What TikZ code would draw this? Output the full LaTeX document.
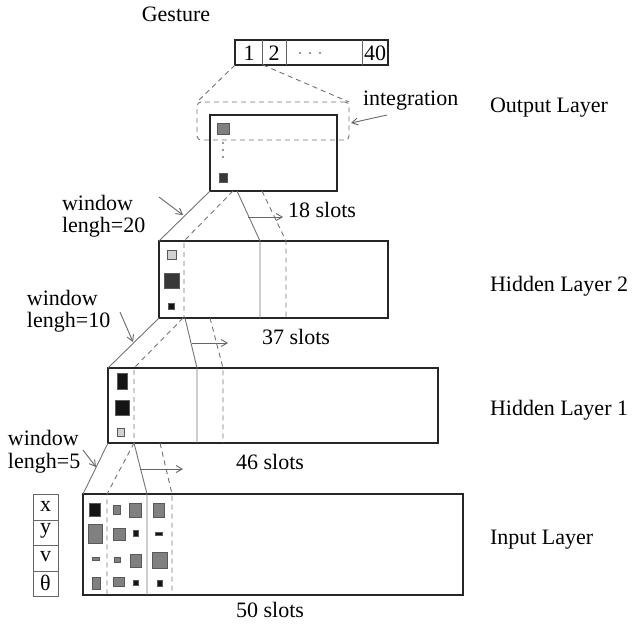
\documentclass[tikz,border=0pt]{standalone}
\usepackage{fontspec}
\setmainfont{Liberation Serif}
\usetikzlibrary{arrows.meta,calc}

\begin{document}
\begin{tikzpicture}[x=1pt,y=-1pt,
  every node/.style={font=\fontsize{22}{22}\selectfont, inner sep=0pt, outer sep=0pt},
  layerbox/.style={draw=black!85, line width=2.2pt},
  thinbox/.style={draw=black!60, line width=0.8pt},
  link/.style={draw=black!55, line width=0.9pt},
  dashlink/.style={draw=black!55, line width=0.9pt, dash pattern=on 5pt off 4pt},
  shiftarrow/.style={draw=black!60, line width=0.9pt, -{Straight Barb[length=6pt,width=7pt]}},
  winlabel/.style={anchor=west, align=left, font=\fontsize{22}{22}\selectfont},
  cell/.style={draw=black!65, line width=0.5pt},
  lightcell/.style={cell, fill=black!18},
  graycell/.style={cell, fill=black!50},
  darkcell/.style={cell, fill=black!78},
  blackcell/.style={cell, fill=black!92}
]
\useasboundingbox (0,0) rectangle (632,627);

% ---------- boxes ----------
\node[layerbox, minimum width=153pt, minimum height=25pt] (gbox) at (311.5,52.5) {};
\node[layerbox, minimum width=127pt, minimum height=76pt] (out) at (273.5,153) {};
\node[layerbox, minimum width=229pt, minimum height=77pt] (h2) at (273.5,279.5) {};
\node[layerbox, minimum width=330pt, minimum height=75pt] (h1) at (273,405.5) {};
\node[layerbox, minimum width=380pt, minimum height=101pt] (inp) at (273,544.5) {};
\node[dashlink, rounded corners=4pt, minimum width=152pt, minimum height=38pt] (integ) at (273,121) {};
\node[thinbox, minimum width=25pt, minimum height=102pt] (feat) at (45.5,545) {};

% ---------- gesture vector ----------
\draw[thinbox] (262,40) -- (262,65) (286,40) -- (286,65) (362,40) -- (362,65);
\node (g1) at (249,53) {1};
\node (g2) at (274,53) {2};
\node (g40) at (375,53) {40};
\foreach \x in {300,310,320} \fill[black!55] (\x,53) circle (1.1pt);
\node (gesture) at (176,14) {Gesture};

% integration funnel
\coordinate (gsplit) at (263,65);
\draw[dashlink] (gbox.south west) -- (integ.north west);
\draw[dashlink] (gsplit) -- (integ.north east);
\node[anchor=west] (integlbl) at (363,101) {integration};
\coordinate (integtail) at (387,115);
\coordinate (integhead) at (351,123);
\draw[shiftarrow] (integtail) -- (integhead);

% ---------- output layer cells ----------
\draw[graycell] (217,123) rectangle (229,134);
\foreach \y in {143,150,157} \fill[black!55] (223,\y) circle (1.1pt);
\draw[darkcell] (219,173) rectangle (227,182);

% ---------- output -> hidden 2 ----------
\coordinate (oa) at (233,191);
\coordinate (ob) at (237,191);
\coordinate (oc) at (262,191);
\coordinate (h2a) at (184,241);
\coordinate (h2b) at (260,241);
\coordinate (h2c) at (286,241);
\draw[link] (out.south west) -- (h2.north west);
\draw[dashlink] (oa) -- (h2a) -- (h2a |- h2.south);
\draw[link] (ob) -- (h2b) -- (h2b |- h2.south);
\draw[dashlink] (oc) -- (h2c) -- (h2c |- h2.south);
\coordinate (a18s) at (248,217);
\coordinate (a18e) at (283,217);
\draw[shiftarrow] (a18s) -- (a18e);
\node (s18) at (322,210) {18 slots};
\node[winlabel] (w20) at (62,216) {window\\lengh=20};
\coordinate (w20t) at (159,197);
\coordinate (w20h) at (183,215);
\draw[shiftarrow] (w20t) -- (w20h);

% hidden 2 cells
\draw[lightcell] (167,250) rectangle (176,259);
\draw[darkcell] (164,273) rectangle (179,288);
\draw[blackcell] (168,303) rectangle (174,309);

% ---------- hidden 2 -> hidden 1 ----------
\coordinate (h2d) at (183,318);
\coordinate (h2e) at (185,318);
\coordinate (h2f) at (210,318);
\coordinate (h1a) at (134,368);
\coordinate (h1b) at (197,368);
\coordinate (h1c) at (223,368);
\draw[link] (h2.south west) -- (h1.north west);
\draw[dashlink] (h2d) -- (h1a) -- (h1a |- h1.south);
\draw[link] (h2e) -- (h1b) -- (h1b |- h1.south);
\draw[dashlink] (h2f) -- (h1c) -- (h1c |- h1.south);
\coordinate (a37s) at (192,343);
\coordinate (a37e) at (228,343);
\draw[shiftarrow] (a37s) -- (a37e);
\node (s37) at (296,337) {37 slots};
\node[winlabel] (w10) at (27,311) {window\\lengh=10};
\coordinate (w10t) at (120,312);
\coordinate (w10h) at (133,342);
\draw[shiftarrow] (w10t) -- (w10h);

% hidden 1 cells
\draw[blackcell] (117,373) rectangle (127,389);
\draw[blackcell] (115,400) rectangle (129,415);
\draw[lightcell] (117,428) rectangle (124,436);

% ---------- hidden 1 -> input ----------
\coordinate (h1d) at (134,443);
\coordinate (h1e) at (160,443);
\coordinate (ia) at (107,494);
\coordinate (ib) at (147,494);
\coordinate (ic) at (172,494);
\draw[link] (h1.south west) -- (inp.north west);
\draw[dashlink] (h1d) -- (ia) -- (ia |- inp.south);
\draw[link] (h1d) -- (ib) -- (ib |- inp.south);
\draw[dashlink] (h1e) -- (ic) -- (ic |- inp.south);
\coordinate (a46s) at (140,469);
\coordinate (a46e) at (183,469);
\draw[shiftarrow] (a46s) -- (a46e);
\node (s46) at (270,462) {46 slots};
\node[winlabel, font=\fontsize{22}{23}\selectfont] (w5) at (8,452) {window\\lengh=5};
\coordinate (w5t) at (83,450);
\coordinate (w5h) at (96,467);
\draw[shiftarrow] (w5t) -- (w5h);

% input cells: rows x, y, v, theta
\draw[blackcell] (89,503) rectangle (100,516);
\draw[graycell] (113,505) rectangle (120,514);
\draw[graycell] (129,503) rectangle (141,517);
\draw[graycell] (153,503) rectangle (164,517);

\draw[graycell] (88,524) rectangle (102,543);
\draw[graycell] (113,528) rectangle (125,540);
\draw[blackcell] (133,530) rectangle (138,536);
\draw[blackcell] (155,532) rectangle (162,535);

\draw[graycell] (92,557) rectangle (99,560);
\draw[graycell] (114,557) rectangle (120,562);
\draw[graycell] (130,554) rectangle (141,567);
\draw[graycell] (152,552) rectangle (167,568);

\draw[graycell] (92,577) rectangle (100,589);
\draw[graycell] (113,577) rectangle (124,586);
\draw[blackcell] (133,580) rectangle (138,585);
\draw[blackcell] (157,580) rectangle (162,586);

\node (s50) at (270,610) {50 slots};

% feature column
\draw[thinbox] (33,520) -- (58,520) (33,545) -- (58,545) (33,571) -- (58,571);
\node (fx) at (45.5,506) {x};
\node (fy) at (45.5,531) {y};
\node (fv) at (45.5,557) {v};
\node (ft) at (45.5,583) {θ};

% ---------- layer names ----------
\node[anchor=west] (lout) at (490,108) {Output Layer};
\node[anchor=west] (lh2) at (490,286) {Hidden Layer 2};
\node[anchor=west] (lh1) at (490,410) {Hidden Layer 1};
\node[anchor=west] (lin) at (490,540) {Input Layer};
\end{tikzpicture}
\end{document}
